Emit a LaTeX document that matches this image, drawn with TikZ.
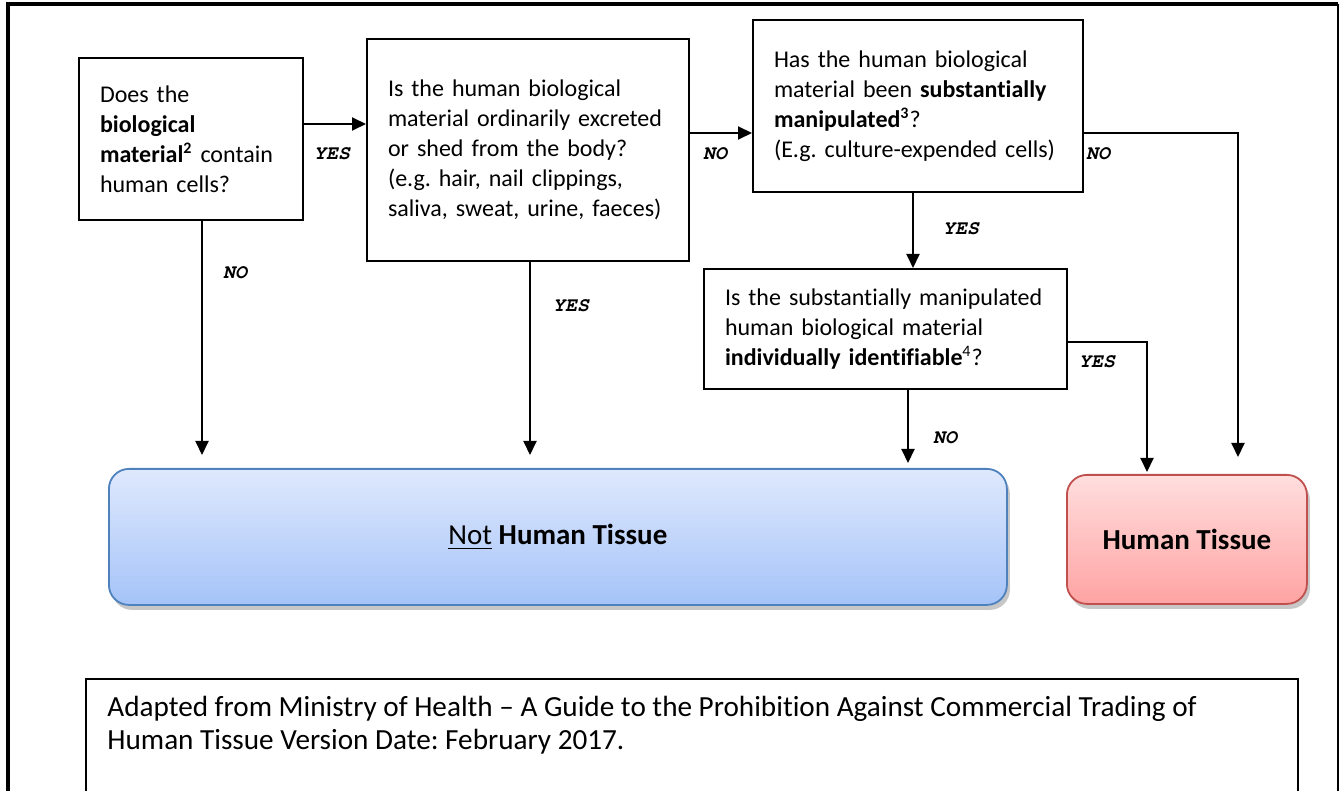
\documentclass[tikz,border=0pt]{standalone}
\usepackage{fontspec}
\setmainfont{Carlito}[Ligatures=CommonOff]
\usetikzlibrary{positioning,arrows.meta,shadows}
\definecolor{ntTop}{HTML}{DFE9FD}
\definecolor{ntBot}{HTML}{A5C3F8}
\definecolor{ntLine}{HTML}{4F81BD}
\definecolor{htTop}{HTML}{FFDEDE}
\definecolor{htBot}{HTML}{FFA3A3}
\definecolor{htLine}{HTML}{C0504D}
\newcommand{\ynfont}{\fontencoding{OT1}\fontfamily{pcr}\fontseries{b}\fontshape{sl}\fontsize{10}{12}\selectfont}

\begin{document}
\frenchspacing
\begin{tikzpicture}[x=0.5pt,y=-0.5pt,
   qbox/.style={draw,line width=1pt,anchor=north west,align=left,inner xsep=10.5pt,inner ysep=0pt,
     font=\fontsize{12}{15}\selectfont},
   outbox/.style 2 args={draw=#1,line width=0.9pt,top color=#2Top,bottom color=#2Bot,rounded corners=10pt,
     anchor=north west,font=\fontsize{14.5}{17}\selectfont,
     drop shadow={shadow xshift=1.5pt,shadow yshift=-2.5pt,fill=black,opacity=0.22}},
   yn/.style={font=\ynfont,inner sep=0pt},
   arr/.style={line width=1pt,-{Triangle[length=7pt,width=6.5pt]}}]

 \useasboundingbox (0,0) rectangle (1340,791);
 \draw[line width=1.6pt] (8,800) -- (8,4) -- (1338,4);
 \draw[line width=1pt] (1338,4) -- (1338,800);

 \node[qbox,text width=91pt,minimum height=81pt] (qcells) at (78,57)
   {Does the\\\textbf{biological}\\\textbf{material\textsuperscript{2}} contain\\human cells?};
 \node[qbox,text width=140pt,minimum height=111pt] (qshed) at (366,38)
   {Is the human biological\\material ordinarily excreted\\or shed from the body?\\(e.g. hair, nail clippings,\\saliva, sweat, urine, faeces)};
 \node[qbox,text width=144pt,minimum height=86pt] (qmanip) at (752,19)
   {Has the human biological\\material been \textbf{substantially}\\\textbf{manipulated\textsuperscript{3}}?\\(E.g. culture-expended cells)};
 \node[qbox,text width=160.5pt,minimum height=60pt] (qident) at (703,268)
   {Is the substantially manipulated\\human biological material\\\textbf{individually identifiable}\textsuperscript{4}?};

 \node[outbox={ntLine}{nt},minimum width=449pt,minimum height=68pt] (nottissue) at (108,468)
   {\underline{Not} \textbf{Human Tissue}};
 \node[outbox={htLine}{ht},minimum width=120pt,minimum height=64.5pt] (tissue) at (1066,474)
   {\textbf{Human Tissue}};

 % connectors
 \draw[arr] (qcells.east |- 0,124) -- (qshed.west |- 0,124);
 \draw[arr] (qshed.east |- 0,133) -- (qmanip.west |- 0,133);
 \draw[arr,shorten >=6.5pt] (qcells.south -| 202,0) -- (nottissue.north -| 202,0);
 \draw[arr,shorten >=6.5pt] (qshed.south -| 530,0) -- (nottissue.north -| 530,0);
 \draw[arr] (qmanip.south -| 913,0) -- (qident.north -| 913,0);
 \draw[arr,shorten >=2.5pt] (qident.south -| 908,0) -- (nottissue.north -| 908,0);
 \draw[arr,shorten >=8.5pt] (qmanip.east |- 0,133) -| (tissue.north -| 1238,0);
 \draw[arr,shorten >=1pt] (qident.east |- 0,342) -| (tissue.north -| 1147,0);

 \foreach \x/\y/\t [count=\i] in {332/154/YES,235/273/NO,571/306/YES,715/154/NO,
     1098/154/NO,961/229/YES,945/438/NO,1097/362/YES}
   \node[yn] (lab\i) at (\x,\y) {\t};

 % source note
 \draw[line width=1pt] (86,800) -- (86,679) -- (1298,679) -- (1298,800);
 \node[anchor=west,align=left,inner sep=0pt,font=\fontsize{14.6}{16.5}\selectfont] (source) at (107,725)
   {Adapted from Ministry of Health -- A Guide to the Prohibition Against Commercial Trading of\\
    Human Tissue Version Date: February 2017.};
\end{tikzpicture}
\end{document}
